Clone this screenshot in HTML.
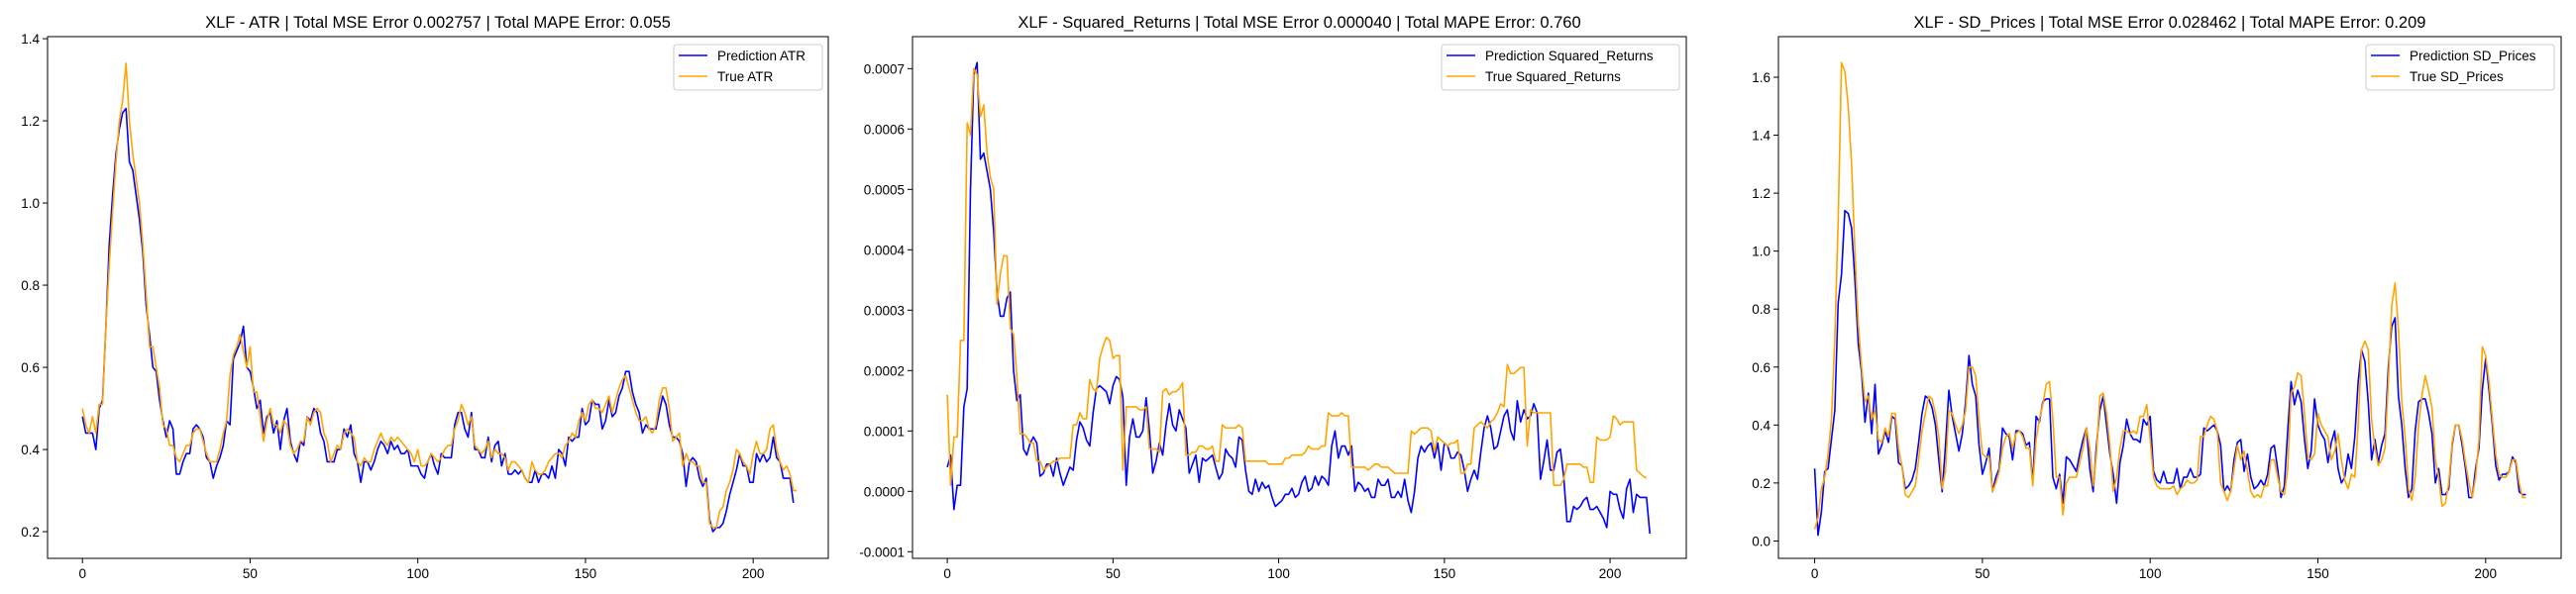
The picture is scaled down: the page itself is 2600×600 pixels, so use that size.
<!DOCTYPE html>
<html><head><meta charset="utf-8"><style>
html,body{margin:0;padding:0;background:#fff}
svg{display:block;font-family:"Liberation Sans","DejaVu Sans",sans-serif}
</style></head><body>
<svg id="fig" width="2600" height="600" viewBox="0 0 2600 600" xmlns="http://www.w3.org/2000/svg"></svg>
<script>
const xTicks=[0,50,100,150,200];
const atrTicks=[0.2,0.4,0.6,0.8,1.0,1.2,1.4];
const srTicks=[-0.0001,0,0.0001,0.0002,0.0003,0.0004,0.0005,0.0006,0.0007];
const srTickLabels=["-0.0001","0.0000","0.0001","0.0002","0.0003","0.0004","0.0005","0.0006","0.0007"];
const sdTicks=[0,0.2,0.4,0.6,0.8,1.0,1.2,1.4,1.6];
const atrTrue=[0.50,0.46,0.44,0.48,0.44,0.51,0.51,0.70,0.85,0.98,1.10,1.20,1.25,1.34,1.20,1.12,1.06,1.00,0.90,0.78,0.65,0.65,0.60,0.55,0.46,0.45,0.41,0.41,0.38,0.37,0.39,0.41,0.41,0.44,0.45,0.45,0.42,0.39,0.37,0.37,0.37,0.40,0.44,0.47,0.58,0.63,0.65,0.68,0.64,0.60,0.65,0.54,0.54,0.48,0.42,0.47,0.50,0.46,0.46,0.44,0.47,0.46,0.41,0.39,0.40,0.42,0.42,0.48,0.46,0.49,0.50,0.49,0.44,0.42,0.37,0.39,0.41,0.40,0.44,0.45,0.44,0.43,0.37,0.36,0.38,0.37,0.37,0.40,0.42,0.44,0.42,0.41,0.43,0.42,0.43,0.42,0.41,0.40,0.39,0.37,0.40,0.36,0.36,0.37,0.39,0.38,0.37,0.38,0.40,0.41,0.41,0.45,0.47,0.51,0.49,0.46,0.48,0.41,0.40,0.39,0.40,0.42,0.38,0.40,0.39,0.39,0.38,0.35,0.37,0.37,0.36,0.35,0.33,0.32,0.37,0.35,0.34,0.34,0.35,0.37,0.38,0.39,0.39,0.38,0.41,0.42,0.44,0.43,0.47,0.49,0.47,0.51,0.52,0.50,0.50,0.49,0.51,0.53,0.49,0.52,0.55,0.57,0.58,0.55,0.52,0.49,0.47,0.47,0.48,0.45,0.44,0.46,0.52,0.55,0.55,0.50,0.42,0.43,0.44,0.36,0.39,0.37,0.37,0.36,0.36,0.32,0.32,0.22,0.21,0.21,0.25,0.26,0.30,0.32,0.35,0.40,0.39,0.37,0.36,0.34,0.39,0.42,0.39,0.39,0.40,0.45,0.46,0.40,0.37,0.35,0.36,0.34,0.30,0.30];
const atrPred=[0.48,0.44,0.44,0.44,0.40,0.50,0.52,0.70,0.90,1.02,1.12,1.18,1.22,1.23,1.10,1.08,1.02,0.96,0.88,0.75,0.68,0.60,0.59,0.52,0.47,0.43,0.47,0.45,0.34,0.34,0.37,0.39,0.39,0.45,0.46,0.45,0.43,0.38,0.37,0.33,0.36,0.38,0.41,0.47,0.46,0.62,0.64,0.66,0.70,0.60,0.59,0.55,0.50,0.52,0.44,0.48,0.49,0.44,0.47,0.40,0.47,0.50,0.42,0.39,0.37,0.42,0.41,0.48,0.47,0.50,0.49,0.44,0.42,0.37,0.37,0.37,0.40,0.40,0.45,0.43,0.46,0.39,0.37,0.32,0.37,0.37,0.35,0.37,0.40,0.42,0.41,0.39,0.42,0.40,0.41,0.39,0.39,0.40,0.36,0.36,0.36,0.34,0.33,0.37,0.39,0.36,0.34,0.39,0.38,0.38,0.38,0.46,0.49,0.49,0.45,0.43,0.49,0.40,0.40,0.38,0.38,0.43,0.37,0.41,0.42,0.36,0.39,0.34,0.34,0.35,0.34,0.35,0.33,0.32,0.32,0.35,0.32,0.34,0.34,0.33,0.36,0.33,0.40,0.39,0.36,0.43,0.42,0.43,0.43,0.50,0.46,0.47,0.52,0.51,0.51,0.45,0.47,0.52,0.48,0.49,0.53,0.55,0.59,0.59,0.54,0.51,0.49,0.44,0.46,0.45,0.45,0.45,0.49,0.53,0.51,0.46,0.43,0.43,0.42,0.39,0.31,0.37,0.38,0.37,0.33,0.31,0.33,0.23,0.20,0.21,0.21,0.22,0.25,0.29,0.32,0.35,0.39,0.36,0.36,0.32,0.32,0.39,0.37,0.39,0.37,0.38,0.43,0.38,0.37,0.33,0.33,0.33,0.27];
const srTrue=[1.6,0.1,0.9,0.9,2.5,2.5,6.1,5.9,7.0,6.9,6.2,6.4,5.6,5.2,5.0,3.1,3.6,3.9,3.9,2.7,2.6,1.9,0.95,0.95,0.9,0.8,0.8,0.5,0.5,0.35,0.4,0.45,0.5,0.5,0.55,0.55,0.55,0.55,1.1,1.1,1.3,1.2,1.2,1.85,1.7,1.65,2.2,2.4,2.55,2.5,2.2,2.25,2.25,0.35,1.4,1.4,1.4,1.4,1.35,1.35,1.4,0.7,0.7,0.7,0.65,1.65,1.7,1.6,1.65,1.65,1.7,1.8,0.6,0.6,0.65,0.65,0.75,0.75,0.7,0.7,0.75,0.5,0.5,1.1,1.05,1.05,1.05,1.05,1.1,1.05,0.5,0.5,0.5,0.5,0.5,0.5,0.5,0.45,0.45,0.45,0.45,0.45,0.55,0.55,0.6,0.6,0.6,0.6,0.65,0.75,0.7,0.7,0.7,0.75,0.75,1.3,1.25,1.25,1.25,1.3,1.25,1.25,0.4,0.4,0.4,0.4,0.4,0.35,0.4,0.45,0.45,0.4,0.4,0.4,0.35,0.3,0.3,0.3,0.3,0.3,1.0,0.95,1.0,1.05,1.05,1.05,1.0,0.65,0.9,0.85,0.8,0.75,0.8,0.8,0.85,0.3,0.3,0.45,0.45,1.05,1.1,1.15,1.1,1.05,1.15,1.2,1.3,1.45,1.4,2.1,1.95,1.95,2.0,2.05,2.05,0.75,1.35,1.3,1.3,1.3,1.3,1.3,1.3,0.1,0.1,0.1,0.2,0.45,0.45,0.45,0.45,0.45,0.4,0.4,0.15,0.15,0.9,0.85,0.85,0.85,0.9,1.25,1.2,1.1,1.15,1.15,1.15,1.15,0.35,0.3,0.25,0.22];
const srPred=[0.4,0.6,-0.3,0.1,0.1,1.4,1.7,5.0,6.9,7.1,5.5,5.6,5.3,5.0,4.3,3.3,2.9,2.9,3.2,3.3,2.0,1.5,1.6,0.7,0.6,0.8,0.9,0.8,0.25,0.3,0.45,0.45,0.25,0.55,0.3,0.1,0.25,0.4,0.35,0.85,1.15,1.05,0.85,0.75,1.3,1.7,1.75,1.7,1.65,1.45,1.75,1.9,1.85,1.55,0.1,0.9,1.2,0.9,0.9,1.0,1.55,1.0,0.3,0.5,0.8,0.6,1.1,1.45,1.1,1.0,1.35,1.2,1.05,0.3,0.45,0.6,0.15,0.55,0.5,0.55,0.6,0.4,0.2,0.3,0.7,0.6,0.55,0.4,0.9,0.85,0.35,0.0,-0.05,0.2,0.0,0.15,0.05,0.1,-0.1,-0.25,-0.2,-0.15,-0.05,-0.05,0.05,-0.1,-0.05,0.15,0.25,0.0,0.05,0.25,0.1,0.25,0.2,0.1,0.75,1.0,0.55,0.75,0.75,0.6,0.75,0.0,0.15,0.1,0.0,0.05,-0.1,-0.1,0.2,0.1,0.1,0.2,-0.1,-0.1,0.0,-0.1,0.2,-0.15,-0.35,0.0,0.55,0.75,0.65,0.75,0.8,0.55,0.8,0.35,0.8,0.75,0.55,0.55,0.65,0.6,0.35,0.0,0.2,0.35,0.2,0.65,1.05,1.25,1.05,0.7,0.75,1.0,1.25,1.35,1.0,0.85,1.5,1.15,1.35,1.2,1.25,1.45,1.3,0.2,0.5,0.85,0.35,0.35,0.65,0.7,0.25,-0.5,-0.5,-0.25,-0.3,-0.25,-0.15,-0.1,-0.3,-0.3,-0.25,-0.35,-0.45,-0.6,0.0,-0.05,-0.05,-0.3,-0.45,0.05,0.2,-0.35,-0.05,-0.1,-0.1,-0.1,-0.7];
const sdTrue=[0.04,0.08,0.18,0.22,0.30,0.42,0.70,1.10,1.65,1.62,1.50,1.30,1.00,0.75,0.60,0.48,0.50,0.42,0.45,0.35,0.34,0.39,0.36,0.44,0.44,0.32,0.26,0.16,0.15,0.17,0.19,0.28,0.38,0.44,0.50,0.49,0.44,0.36,0.18,0.24,0.45,0.44,0.40,0.37,0.40,0.45,0.60,0.60,0.57,0.42,0.30,0.29,0.29,0.17,0.20,0.24,0.32,0.36,0.37,0.32,0.37,0.38,0.36,0.32,0.32,0.19,0.35,0.42,0.47,0.54,0.55,0.42,0.22,0.22,0.09,0.20,0.22,0.22,0.22,0.27,0.32,0.39,0.32,0.19,0.30,0.50,0.51,0.44,0.33,0.17,0.22,0.32,0.38,0.38,0.37,0.38,0.37,0.43,0.43,0.47,0.35,0.22,0.19,0.18,0.18,0.18,0.18,0.19,0.16,0.18,0.19,0.21,0.20,0.20,0.21,0.36,0.36,0.40,0.43,0.42,0.38,0.20,0.17,0.14,0.17,0.25,0.33,0.28,0.31,0.24,0.17,0.15,0.16,0.15,0.19,0.19,0.28,0.28,0.22,0.17,0.16,0.25,0.51,0.53,0.58,0.57,0.44,0.29,0.28,0.30,0.44,0.40,0.38,0.36,0.28,0.31,0.37,0.28,0.21,0.18,0.23,0.22,0.40,0.66,0.69,0.66,0.42,0.32,0.26,0.28,0.32,0.55,0.81,0.89,0.73,0.48,0.36,0.18,0.14,0.22,0.40,0.50,0.57,0.52,0.46,0.28,0.22,0.12,0.13,0.20,0.34,0.40,0.40,0.35,0.27,0.20,0.15,0.22,0.35,0.67,0.64,0.55,0.42,0.30,0.23,0.22,0.22,0.24,0.28,0.28,0.20,0.15,0.15];
const sdPred=[0.25,0.02,0.10,0.24,0.25,0.35,0.45,0.82,0.92,1.14,1.13,1.08,0.90,0.68,0.58,0.41,0.51,0.37,0.54,0.30,0.33,0.38,0.34,0.43,0.42,0.27,0.26,0.18,0.19,0.21,0.25,0.34,0.44,0.50,0.49,0.46,0.40,0.28,0.17,0.33,0.52,0.43,0.37,0.31,0.37,0.48,0.64,0.54,0.50,0.33,0.23,0.27,0.32,0.17,0.22,0.25,0.39,0.37,0.36,0.28,0.38,0.38,0.37,0.33,0.34,0.20,0.43,0.41,0.48,0.49,0.49,0.22,0.18,0.23,0.13,0.29,0.28,0.26,0.24,0.30,0.35,0.39,0.25,0.17,0.33,0.45,0.50,0.40,0.30,0.23,0.13,0.27,0.33,0.42,0.37,0.35,0.35,0.34,0.42,0.40,0.43,0.24,0.21,0.20,0.24,0.20,0.20,0.20,0.25,0.18,0.22,0.22,0.25,0.22,0.22,0.23,0.39,0.38,0.39,0.40,0.38,0.33,0.17,0.19,0.17,0.28,0.34,0.35,0.24,0.30,0.22,0.18,0.19,0.21,0.19,0.23,0.32,0.33,0.25,0.15,0.19,0.38,0.55,0.47,0.52,0.48,0.35,0.25,0.31,0.49,0.40,0.37,0.35,0.27,0.34,0.38,0.25,0.20,0.22,0.30,0.25,0.36,0.55,0.66,0.62,0.48,0.28,0.35,0.27,0.33,0.37,0.60,0.74,0.77,0.50,0.40,0.25,0.15,0.18,0.38,0.48,0.49,0.49,0.44,0.37,0.20,0.25,0.16,0.16,0.18,0.33,0.40,0.40,0.33,0.25,0.15,0.15,0.25,0.32,0.52,0.63,0.52,0.40,0.26,0.21,0.23,0.23,0.24,0.29,0.27,0.17,0.16,0.16];

const NS="http://www.w3.org/2000/svg";
const fig=document.getElementById('fig');
function mk(tag,attrs,parent){const e=document.createElementNS(NS,tag);for(const k in attrs)e.setAttribute(k,attrs[k]);(parent||fig).appendChild(e);return e;}

function panel(cfg){
  const g=mk('g',{});
  
  
  const {L,R,T,B}=cfg;
  const xs=v=>L+(v-cfg.xmin)/(cfg.xmax-cfg.xmin)*(R-L);
  const ys=v=>B-(v-cfg.ymin)/(cfg.ymax-cfg.ymin)*(B-T);
  const t=mk('text',{x:(L+R)/2,y:28,'text-anchor':'middle','font-size':'16.5'},g);
  t.textContent=cfg.title;
  
  
  xTicks.forEach(v=>{
    const x=xs(v);
    mk('line',{x1:x,x2:x,y1:B,y2:B+5,stroke:'#000','stroke-width':1},g);
    const tx=mk('text',{x:x,y:B+20,'text-anchor':'middle','font-size':'13.5'},g);
    tx.textContent=String(v);
    
    
  });
  cfg.yTicks.forEach((v,i)=>{
    const y=ys(v);
    mk('line',{x1:L-5,x2:L,y1:y,y2:y,stroke:'#000','stroke-width':1},g);
    const tx=mk('text',{x:L-8,y:y+5,'text-anchor':'end','font-size':'13.5'},g);
    tx.textContent=cfg.yLabels[i];
    
    
  });
  const clipId='clip-'+cfg.key;
  const cp=mk('clipPath',{id:clipId},g);mk('rect',{x:L,y:T,width:R-L,height:B-T},cp);
  function line(arr,color,name){
    const d=arr.map((v,i)=>(i?'L':'M')+xs(i).toFixed(2)+','+ys(v*cfg.scale).toFixed(2)).join('');
    const p=mk('path',{d:d,fill:'none',stroke:color,'stroke-width':1.6,'stroke-linejoin':'round','clip-path':'url(#'+clipId+')'},g);
    
    
  }
  line(cfg.pred,'#0000ff',cfg.key+'-prediction-line');
  line(cfg.tru,'#ffa500',cfg.key+'-true-line');
  const fr=mk('rect',{x:L,y:T,width:R-L,height:B-T,fill:'none',stroke:'#000','stroke-width':1},g);
  
  
  const lg=mk('g',{},g);
  
  
  mk('rect',{x:cfg.lgX,y:45,width:cfg.lgW,height:46,rx:3,fill:'#fff','fill-opacity':0.8,stroke:'#ccc','stroke-width':1},lg);
  [['Prediction '+cfg.label,'#0000ff',56],['True '+cfg.label,'#ffa500',77]].forEach(([txt,c,y])=>{
    mk('line',{x1:cfg.lgX+5,x2:cfg.lgX+34,y1:y,y2:y,stroke:c,'stroke-width':1.6},lg);
    const tx=mk('text',{x:cfg.lgX+44,y:y+5,'font-size':'13.5'},lg);
    tx.textContent=txt;
    
    
  });
}
panel({key:'atr',L:48,R:836,T:37,B:564,xmin:-10.4,xmax:222.4,ymin:0.135,ymax:1.405,yTicks:atrTicks,yLabels:atrTicks.map(v=>v.toFixed(1)),pred:atrPred,tru:atrTrue,scale:1,title:'XLF - ATR | Total MSE Error 0.002757 | Total MAPE Error: 0.055',label:'ATR',lgX:680,lgW:150});
panel({key:'squared-returns',L:921,R:1702,T:37,B:564,xmin:-10.5,xmax:223,ymin:-0.000111,ymax:0.000753,yTicks:srTicks,yLabels:srTickLabels,pred:srPred,tru:srTrue,scale:0.0001,title:'XLF - Squared_Returns | Total MSE Error 0.000040 | Total MAPE Error: 0.760',label:'Squared_Returns',lgX:1455,lgW:240});
panel({key:'sd-prices',L:1795,R:2585,T:37,B:564,xmin:-10.8,xmax:222.5,ymin:-0.06,ymax:1.74,yTicks:sdTicks,yLabels:sdTicks.map(v=>v.toFixed(1)),pred:sdPred,tru:sdTrue,scale:1,title:'XLF - SD_Prices | Total MSE Error 0.028462 | Total MAPE Error: 0.209',label:'SD_Prices',lgX:2388,lgW:190});
</script>
</body></html>
